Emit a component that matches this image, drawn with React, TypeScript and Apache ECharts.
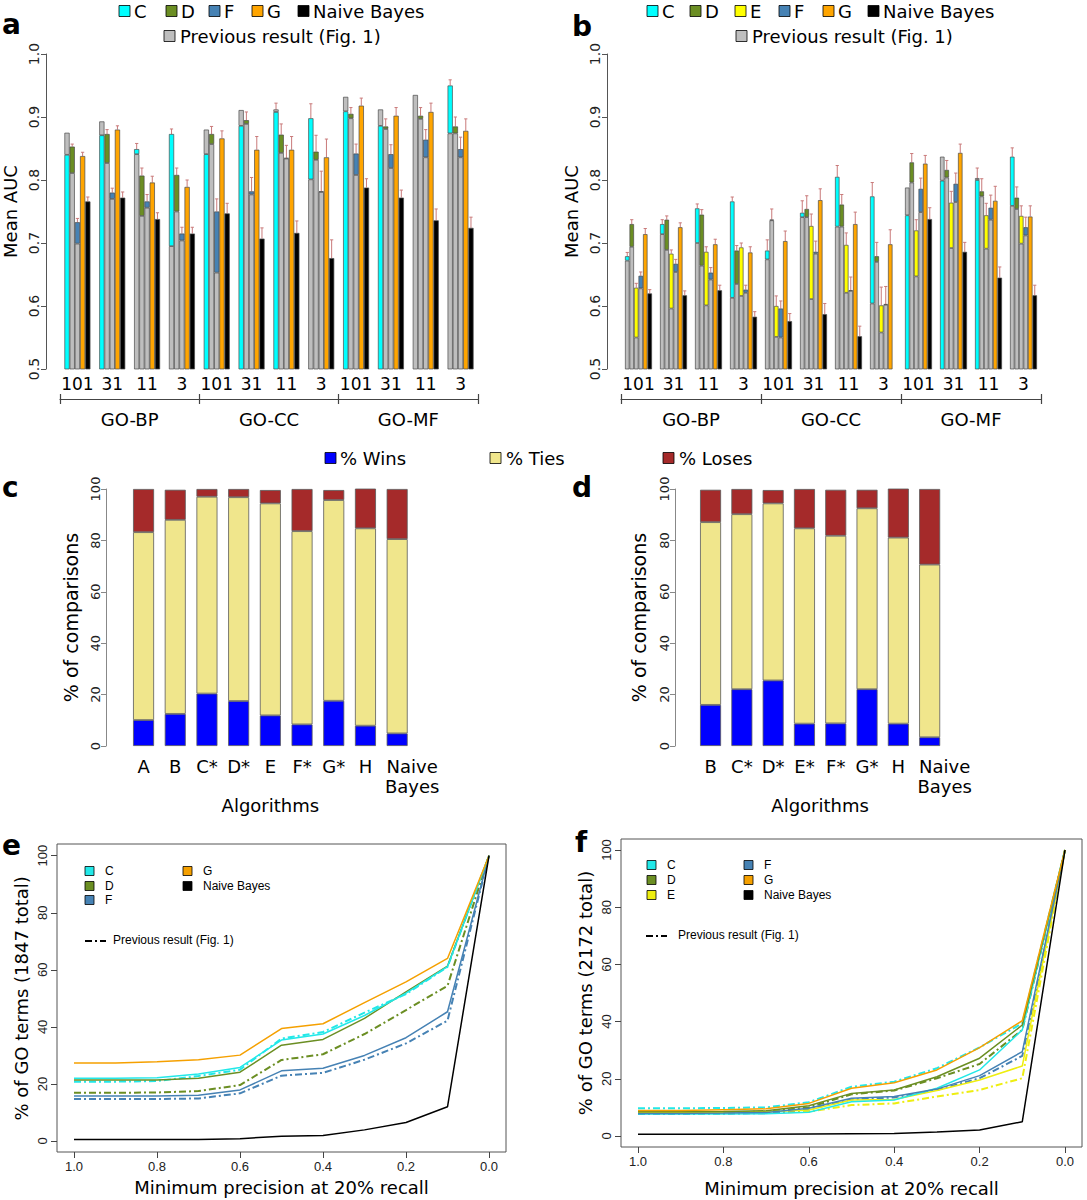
import React, { useEffect, useRef } from 'react';
import * as echarts from 'echarts';

// ---------- shared categories ----------
const windows = ['101', '31', '11', '3', '101', '31', '11', '3', '101', '31', '11', '3'];
const ontologies = ['GO-BP', 'GO-CC', 'GO-MF'];

// ---------- panel a (Mean AUC) ----------
const aNewC = [0.840, 0.871, 0.849, 0.873, 0.841, 0.886, 0.908, 0.898, 0.909, 0.886, null, 0.950];
const aPrevC = [0.875, 0.893, 0.841, 0.695, 0.880, 0.911, 0.912, 0.801, 0.932, 0.912, 0.935, 0.874];
const aErrC = [0.008, 0.008, 0.009, 0.008, 0.008, 0.008, 0.014, 0.023, 0.008, 0.008, 0.010, 0.009];
const aNewD = [0.853, 0.873, 0.807, 0.808, 0.873, 0.895, 0.872, 0.845, 0.905, 0.885, 0.902, 0.885];
const aPrevD = [0.811, 0.827, 0.743, 0.750, 0.857, 0.889, 0.843, 0.832, 0.898, 0.881, 0.897, 0.874];
const aErrD = [0.004, 0.007, 0.012, 0.011, 0.012, 0.013, 0.017, 0.026, 0.010, 0.012, 0.013, 0.015];
const aNewF = [0.733, 0.780, 0.766, 0.715, 0.750, 0.782, 0.835, 0.782, 0.842, 0.841, 0.864, 0.849];
const aPrevF = [0.699, 0.770, 0.756, 0.704, 0.653, 0.777, 0.834, 0.781, 0.808, 0.819, 0.836, 0.836];
const aErrF = [0.006, 0.007, 0.011, 0.010, 0.020, 0.022, 0.020, 0.032, 0.015, 0.015, 0.016, 0.019];
const aNewG = [0.838, 0.880, 0.796, 0.789, 0.866, 0.848, 0.848, 0.836, 0.918, 0.902, 0.908, 0.878];
const aErrG = [0.006, 0.006, 0.010, 0.011, 0.012, 0.021, 0.021, 0.029, 0.012, 0.013, 0.014, 0.019];
const aNB = [0.766, 0.772, 0.738, 0.715, 0.747, 0.707, 0.716, 0.676, 0.788, 0.772, 0.736, 0.724];
const aErrNB = [0.007, 0.009, 0.010, 0.010, 0.016, 0.017, 0.019, 0.029, 0.014, 0.012, 0.018, 0.017];

// ---------- panel b (Mean AUC) ----------
const bNewC = [0.679, 0.730, 0.755, 0.766, 0.688, 0.748, 0.805, 0.774, 0.744, 0.799, 0.800, 0.837];
const bPrevC = [0.672, 0.714, 0.700, 0.613, 0.674, 0.741, 0.726, 0.604, 0.788, 0.837, 0.803, 0.759];
const bErrC = [0.006, 0.007, 0.007, 0.007, 0.017, 0.019, 0.018, 0.022, 0.010, 0.010, 0.019, 0.014];
const bNewD = [0.730, 0.737, 0.745, 0.688, 0.737, 0.754, 0.761, 0.679, 0.828, 0.816, 0.782, 0.772];
const bPrevD = [0.694, 0.689, 0.664, 0.635, 0.736, 0.741, 0.726, 0.670, 0.796, 0.804, 0.774, 0.754];
const bErrD = [0.007, 0.006, 0.008, 0.008, 0.017, 0.021, 0.016, 0.022, 0.014, 0.015, 0.020, 0.017];
const bNewE = [0.629, 0.683, 0.686, 0.693, 0.600, 0.727, 0.697, 0.601, 0.720, 0.764, 0.744, 0.743];
const bPrevE = [0.550, 0.596, 0.601, 0.616, 0.551, 0.611, 0.621, 0.558, 0.647, 0.692, 0.691, 0.699];
const bErrE = [0.007, 0.006, 0.008, 0.007, 0.016, 0.019, 0.019, 0.029, 0.017, 0.018, 0.019, 0.016];
const bNewF = [0.648, 0.667, 0.653, 0.626, 0.596, 0.686, 0.625, 0.603, 0.786, 0.794, 0.756, 0.725];
const bPrevF = [0.628, 0.654, 0.642, 0.621, 0.550, 0.683, 0.624, 0.602, 0.749, 0.765, 0.737, 0.712];
const bErrF = [0.006, 0.007, 0.008, 0.007, 0.012, 0.017, 0.021, 0.028, 0.017, 0.017, 0.020, 0.016];
const bNewG = [0.714, 0.725, 0.698, 0.685, 0.703, 0.768, 0.730, 0.698, 0.826, 0.843, 0.767, 0.742];
const bErrG = [0.009, 0.007, 0.008, 0.009, 0.016, 0.018, 0.019, 0.023, 0.013, 0.014, 0.023, 0.017];
const bNB = [0.620, 0.617, 0.625, 0.583, 0.576, 0.587, 0.552, null, 0.738, 0.686, 0.645, 0.617];
const bErrNB = [0.006, 0.007, 0.008, 0.008, 0.012, 0.017, 0.016, 0, 0.018, 0.015, 0.017, 0.016];

// ---------- panels c, d (% of comparisons) ----------
const cAlgorithms = ['A', 'B', 'C*', 'D*', 'E', 'F*', 'G*', 'H', 'Naive\nBayes'];
const cWins = [10.1, 12.5, 20.4, 17.5, 11.9, 8.4, 17.6, 7.9, 4.9];
const cTies = [73.1, 75.5, 76.6, 79.3, 82.5, 75.2, 78.1, 76.8, 75.6];
const cLoses = [16.8, 11.7, 3.0, 3.2, 5.2, 16.4, 3.9, 15.6, 19.5];
const dAlgorithms = ['B', 'C*', 'D*', 'E*', 'F*', 'G*', 'H', 'Naive\nBayes'];
const dWins = [16.0, 22.1, 25.5, 8.7, 8.8, 22.1, 8.7, 3.4];
const dTies = [71.1, 68.1, 68.9, 76.0, 73.0, 70.4, 72.4, 67.2];
const dLoses = [12.6, 9.8, 5.2, 15.3, 17.9, 7.2, 19.2, 29.4];

// ---------- panels e, f (% of GO terms) ----------
const minPrecision = [1.0, 0.9, 0.8, 0.7, 0.6, 0.5, 0.4, 0.3, 0.2, 0.1, 0.0];
const eG = [27.3, 27.3, 27.8, 28.5, 30.1, 39.4, 41.1, 48.5, 55.8, 64.0, 100];
const eC = [22.0, 22.0, 22.2, 23.5, 25.8, 35.4, 37.5, 44.0, 51.8, 61.1, 100];
const eD = [21.4, 21.4, 21.4, 22.0, 24.1, 33.6, 35.6, 43.0, 52.3, 61.3, 100];
const eF = [15.8, 15.8, 15.8, 16.0, 17.9, 24.6, 25.5, 30.0, 36.2, 45.3, 100];
const eNB = [0.5, 0.5, 0.5, 0.5, 0.8, 1.7, 1.9, 3.9, 6.5, 12.0, 100];
const ePrevC = [20.8, 20.8, 21.0, 22.8, 25.0, 35.9, 38.2, 45.0, 51.5, 61.0, 100];
const ePrevD = [16.9, 16.9, 17.0, 17.5, 19.6, 28.4, 30.4, 37.5, 45.9, 54.4, 100];
const ePrevF = [14.7, 14.7, 14.7, 14.9, 16.7, 22.9, 23.9, 28.5, 34.2, 42.2, 100];

const fG = [8.9, 8.9, 9.2, 9.5, 11.4, 16.7, 18.6, 23.1, 30.9, 40.3, 100];
const fC = [7.7, 7.7, 7.7, 7.8, 8.3, 12.0, 12.6, 16.7, 23.1, 37.1, 100];
const fD = [8.5, 8.5, 8.6, 8.8, 10.6, 14.9, 16.1, 20.7, 27.2, 38.8, 100];
const fE = [8.2, 8.2, 8.3, 8.5, 9.1, 12.6, 12.8, 15.9, 19.6, 24.5, 100];
const fF = [7.9, 7.9, 8.0, 8.2, 9.7, 13.2, 13.8, 16.4, 21.1, 29.5, 100];
const fNB = [0.6, 0.6, 0.6, 0.6, 0.7, 0.8, 0.9, 1.4, 2.1, 5.0, 100];
const fPrevC = [9.7, 9.7, 9.8, 10.0, 11.8, 17.2, 19.0, 23.7, 31.0, 39.4, 100];
const fPrevD = [8.2, 8.2, 8.3, 8.5, 10.0, 14.6, 15.9, 20.2, 25.2, 37.1, 100];
const fPrevE = [7.9, 7.9, 8.0, 8.1, 8.5, 10.8, 11.4, 13.8, 16.1, 20.2, 100];
const fPrevF = [7.7, 7.7, 7.8, 8.0, 9.3, 12.8, 13.5, 16.1, 20.2, 28.0, 100];

// ---------- colours ----------
const COL = {
  C: '#00FFFF', D: '#6B8E23', E: '#FFFF00', F: '#4682B4', G: '#FFA500', NB: '#000000',
  prev: '#BEBEBE', wins: '#0000FF', ties: '#F0E68C', loses: '#A52A2A', err: '#C97A7A',
};
const LINE_COL = { C: '#22E8E8', D: '#6B8E23', E: '#EEEE10', F: '#4682B4', G: '#F5A000', NB: '#000000' };
const DASHDOT = [7, 3, 2, 3];
const SANS = 'DejaVu Sans';
const ARIAL = 'Liberation Sans';

type Algo = { name: string; v: (number | null)[]; prev?: (number | null)[]; err?: number[]; color: string };

function groupedBars(prefix: string, xi: number, yi: number, algos: Algo[], barW: number) {
  const out: any[] = [];
  const n = algos.length;
  const errData: number[][] = [];
  algos.forEach((al, s) => {
    const lower: any[] = [];
    const upper: any[] = [];
    al.v.forEach((nv, i) => {
      const pv = al.prev ? al.prev[i] : null;
      if (nv == null && pv == null) { lower.push('-'); upper.push('-'); return; }
      if (pv == null) { lower.push({ value: nv, itemStyle: { color: al.color } }); upper.push('-'); }
      else if (nv == null) { lower.push({ value: pv, itemStyle: { color: COL.prev } }); upper.push('-'); }
      else if (nv < pv) {
        lower.push({ value: nv, itemStyle: { color: al.color } });
        upper.push({ value: pv - nv, itemStyle: { color: COL.prev } });
      } else {
        lower.push({ value: pv, itemStyle: { color: COL.prev } });
        upper.push({ value: nv - pv, itemStyle: { color: al.color } });
      }
      if (nv != null && al.err && al.err[i] > 0) errData.push([i, s, nv, nv + al.err[i]]);
    });
    const common = {
      type: 'bar', xAxisIndex: xi, yAxisIndex: yi, stack: prefix + al.name, barWidth: barW, barGap: '0%',
      z: 2, clip: true, itemStyle: { borderColor: '#4a4a4a', borderWidth: 0.7 }, emphasis: { disabled: true },
    };
    out.push({ ...common, name: al.name, data: lower });
    out.push({ ...common, name: al.name + ' diff', data: upper });
  });
  out.push({
    type: 'custom', xAxisIndex: xi, yAxisIndex: yi, z: 1, data: errData, encode: { x: 0, y: [2, 3] },
    renderItem: (params: any, api: any) => {
      const i = api.value(0), s = api.value(1), v = api.value(2), e = api.value(3);
      const p0 = api.coord([i, v]);
      const p1 = api.coord([i, e]);
      const x = p0[0] + (s - (n - 1) / 2) * barW;
      const st = { stroke: COL.err, lineWidth: 1 };
      return {
        type: 'group', children: [
          { type: 'line', shape: { x1: x, y1: p0[1], x2: x, y2: p1[1] }, style: st },
          { type: 'line', shape: { x1: x - 1.6, y1: p1[1], x2: x + 1.6, y2: p1[1] }, style: st },
        ],
      };
    },
  });
  return out;
}

function stackedPct(xi: number, yi: number, wins: number[], ties: number[], loses: number[]) {
  const mk = (name: string, data: number[], color: string) => ({
    type: 'bar', name, xAxisIndex: xi, yAxisIndex: yi, stack: 'pct' + xi, data, barWidth: 21,
    itemStyle: { color, borderColor: '#5a5a5a', borderWidth: 0.8 }, emphasis: { disabled: true },
  });
  return [mk('% Wins', wins, COL.wins), mk('% Ties', ties, COL.ties), mk('% Loses', loses, COL.loses)];
}

function lineSeries(xi: number, yi: number, name: string, ys: number[], color: string, dashed: boolean) {
  return {
    type: 'line', name, xAxisIndex: xi, yAxisIndex: yi, symbol: 'none', silent: true,
    data: minPrecision.map((x, i) => [x, ys[i]]),
    lineStyle: { color, width: dashed ? 2 : 1.5, type: dashed ? DASHDOT : 'solid' },
    z: dashed ? 2 : 3,
  };
}

function aucAxes(gridIndex: number, offset: number) {
  const x = [
    {
      gridIndex, type: 'category', data: windows, axisLine: { show: false }, axisTick: { show: false },
      axisLabel: { interval: 0, fontSize: 17, margin: 6, color: '#000', fontFamily: SANS },
    },
    {
      gridIndex, type: 'category', data: ontologies, position: 'bottom', offset: 30,
      axisLine: { show: true, lineStyle: { color: '#444', width: 1.2 } },
      axisTick: { show: true, length: 5, lineStyle: { color: '#444', width: 1.2 } },
      axisLabel: { interval: 0, fontSize: 18, margin: 11, color: '#000', fontFamily: SANS },
    },
    {
      gridIndex, type: 'category', data: ontologies, position: 'bottom', offset: 30,
      axisLine: { show: false }, axisLabel: { show: false },
      axisTick: { show: true, inside: true, length: 5, lineStyle: { color: '#444', width: 1.2 } },
    },
  ];
  const y = {
    gridIndex, type: 'value', min: 0.5, max: 1.0, interval: 0.1, offset,
    axisLine: { show: true, lineStyle: { color: '#555' } },
    axisTick: { show: true, length: 5, lineStyle: { color: '#555' } },
    splitLine: { show: false },
    axisLabel: { rotate: 90, fontSize: 14, margin: 5, color: '#222', fontFamily: SANS, formatter: (v: number) => v.toFixed(1) },
    name: 'Mean AUC', nameLocation: 'middle', nameGap: 27, nameTextStyle: { fontSize: 18, color: '#000', fontFamily: SANS },
  };
  return { x, y };
}

function legendSquare(x: number, y: number, color: string, label: string, size: number, font: number, family: string, gap: number) {
  return [
    { type: 'rect', shape: { x, y: y - size / 2, width: size, height: size }, style: { fill: color, stroke: '#000', lineWidth: 0.8 } },
    { type: 'text', x: x + size + gap, y, style: { text: label, fill: '#000', font: `${font}px "${family}"`, verticalAlign: 'middle', textAlign: 'left' } },
  ];
}

function letter(x: number, y: number, t: string) {
  return { type: 'text', x, y, style: { text: t, fill: '#000', font: `bold 28px "${SANS}"`, verticalAlign: 'middle' } };
}

export default function App() {
  const ref = useRef<HTMLDivElement>(null);
  useEffect(() => {
    document.body.style.margin = '0';
    if (!ref.current) return;
    const chart = echarts.init(ref.current, null, { renderer: 'svg' });

    const aAx = aucAxes(0, 14);
    const bAx = aucAxes(1, 14);

    const pctY = (gridIndex: number, offset: number, nameGap: number) => ({
      gridIndex, type: 'value', min: 0, max: 100, interval: 20, offset,
      axisLine: { show: true, lineStyle: { color: '#888' } },
      axisTick: { show: true, length: 5, lineStyle: { color: '#888' } },
      splitLine: { show: false },
      axisLabel: { rotate: 90, fontSize: 13, margin: 4, color: '#222', fontFamily: SANS },
      name: '% of comparisons', nameLocation: 'middle', nameGap, nameTextStyle: { fontSize: 19, color: '#000', fontFamily: SANS },
    });
    const pctX = (gridIndex: number, data: string[]) => ({
      gridIndex, type: 'category',
      data: data.map((d) => (d.indexOf('\n') >= 0 ? { value: d, textStyle: { padding: [0, 0, 0, 30] } } : d)),
      axisLine: { show: false }, axisTick: { show: false },
      axisLabel: { interval: 0, fontSize: 18, lineHeight: 20, margin: 10, color: '#000', fontFamily: SANS },
      name: 'Algorithms', nameLocation: 'middle', nameGap: 38, nameTextStyle: { fontSize: 18, color: '#000', fontFamily: SANS },
    });
    const goX = (gridIndex: number, nameGap: number) => ({
      gridIndex, type: 'value', min: 0, max: 1, interval: 0.2, inverse: true, offset: 11,
      axisLine: { show: false, onZero: false }, splitLine: { show: false },
      axisTick: { show: true, length: 6, lineStyle: { color: '#444' } },
      axisLabel: { fontSize: 13, margin: 8, color: '#222', fontFamily: ARIAL, formatter: (v: number) => v.toFixed(1) },
      name: 'Minimum precision at 20% recall', nameLocation: 'middle', nameGap,
      nameTextStyle: { fontSize: 18, color: '#000', fontFamily: SANS },
    });
    const goY = (gridIndex: number, name: string, offset: number) => ({
      gridIndex, type: 'value', min: 0, max: 100, interval: 20, offset,
      axisLine: { show: false, onZero: false }, splitLine: { show: false },
      axisTick: { show: true, length: 6, lineStyle: { color: '#444' } },
      axisLabel: { rotate: 90, fontSize: 13, margin: 8, color: '#222', fontFamily: ARIAL },
      name, nameLocation: 'middle', nameGap: 27, nameTextStyle: { fontSize: 18, color: '#000', fontFamily: SANS },
    });
    const boxX = (gridIndex: number) => ({ gridIndex, type: 'value', show: false, min: 0, max: 1, axisLine: { onZero: false } });
    const boxY = (gridIndex: number) => ({ gridIndex, type: 'value', show: false, min: 0, max: 1, axisLine: { onZero: false } });

    const series: any[] = [
      ...groupedBars('a', 0, 0, [
        { name: 'C', v: aNewC, prev: aPrevC, err: aErrC, color: COL.C },
        { name: 'D', v: aNewD, prev: aPrevD, err: aErrD, color: COL.D },
        { name: 'F', v: aNewF, prev: aPrevF, err: aErrF, color: COL.F },
        { name: 'G', v: aNewG, err: aErrG, color: COL.G },
        { name: 'Naive Bayes', v: aNB, err: aErrNB, color: COL.NB },
      ], 5.2),
      ...groupedBars('b', 3, 1, [
        { name: 'C', v: bNewC, prev: bPrevC, err: bErrC, color: COL.C },
        { name: 'D', v: bNewD, prev: bPrevD, err: bErrD, color: COL.D },
        { name: 'E', v: bNewE, prev: bPrevE, err: bErrE, color: COL.E },
        { name: 'F', v: bNewF, prev: bPrevF, err: bErrF, color: COL.F },
        { name: 'G', v: bNewG, err: bErrG, color: COL.G },
        { name: 'Naive Bayes', v: bNB, err: bErrNB, color: COL.NB },
      ], 4.5),
      ...stackedPct(6, 2, cWins, cTies, cLoses),
      ...stackedPct(7, 3, dWins, dTies, dLoses),
      lineSeries(8, 4, 'C prev', ePrevC, LINE_COL.C, true),
      lineSeries(8, 4, 'D prev', ePrevD, LINE_COL.D, true),
      lineSeries(8, 4, 'F prev', ePrevF, LINE_COL.F, true),
      lineSeries(8, 4, 'F', eF, LINE_COL.F, false),
      lineSeries(8, 4, 'D', eD, LINE_COL.D, false),
      lineSeries(8, 4, 'C', eC, LINE_COL.C, false),
      lineSeries(8, 4, 'G', eG, LINE_COL.G, false),
      lineSeries(8, 4, 'Naive Bayes', eNB, LINE_COL.NB, false),
      lineSeries(10, 6, 'E prev', fPrevE, LINE_COL.E, true),
      lineSeries(10, 6, 'F prev', fPrevF, LINE_COL.F, true),
      lineSeries(10, 6, 'D prev', fPrevD, LINE_COL.D, true),
      lineSeries(10, 6, 'C prev', fPrevC, LINE_COL.C, true),
      lineSeries(10, 6, 'E', fE, LINE_COL.E, false),
      lineSeries(10, 6, 'C', fC, LINE_COL.C, false),
      lineSeries(10, 6, 'F', fF, LINE_COL.F, false),
      lineSeries(10, 6, 'D', fD, LINE_COL.D, false),
      lineSeries(10, 6, 'G', fG, LINE_COL.G, false),
      lineSeries(10, 6, 'Naive Bayes', fNB, LINE_COL.NB, false),
    ];

    const graphics: any[] = [
      letter(2, 24, 'a'), letter(572, 26, 'b'), letter(2, 487, 'c'), letter(572, 487, 'd'),
      letter(2, 845, 'e'), letter(575, 842, 'f'),
      // legend a
      ...legendSquare(119, 11, COL.C, 'C', 11, 18, SANS, 4),
      ...legendSquare(166, 11, COL.D, 'D', 11, 18, SANS, 4),
      ...legendSquare(209, 11, COL.F, 'F', 11, 18, SANS, 4),
      ...legendSquare(252, 11, COL.G, 'G', 11, 18, SANS, 4),
      ...legendSquare(298, 11, COL.NB, 'Naive Bayes', 11, 18, SANS, 4),
      ...legendSquare(164, 36, COL.prev, 'Previous result (Fig. 1)', 11, 18, SANS, 5),
      // legend b
      ...legendSquare(647, 11, COL.C, 'C', 11, 18, SANS, 4),
      ...legendSquare(690, 11, COL.D, 'D', 11, 18, SANS, 4),
      ...legendSquare(735, 11, COL.E, 'E', 11, 18, SANS, 4),
      ...legendSquare(779, 11, COL.F, 'F', 11, 18, SANS, 4),
      ...legendSquare(823, 11, COL.G, 'G', 11, 18, SANS, 4),
      ...legendSquare(868, 11, COL.NB, 'Naive Bayes', 11, 18, SANS, 4),
      ...legendSquare(736, 36, COL.prev, 'Previous result (Fig. 1)', 11, 18, SANS, 5),
      // legend c/d
      ...legendSquare(325, 458, COL.wins, '% Wins', 11, 18, SANS, 4),
      ...legendSquare(490, 458, COL.ties, '% Ties', 11, 18, SANS, 5),
      ...legendSquare(663, 458, COL.loses, '% Loses', 11, 18, SANS, 5),
      // legend e
      ...legendSquare(85, 871, LINE_COL.C, 'C', 9, 12, ARIAL, 11),
      ...legendSquare(85, 886, LINE_COL.D, 'D', 9, 12, ARIAL, 11),
      ...legendSquare(85, 900, LINE_COL.F, 'F', 9, 12, ARIAL, 11),
      ...legendSquare(183, 871, LINE_COL.G, 'G', 9, 12, ARIAL, 11),
      ...legendSquare(183, 886, LINE_COL.NB, 'Naive Bayes', 9, 12, ARIAL, 11),
      { type: 'line', shape: { x1: 85, y1: 941, x2: 106, y2: 941 }, style: { stroke: '#000', lineWidth: 2, lineDash: DASHDOT } },
      { type: 'text', x: 113, y: 940, style: { text: 'Previous result (Fig. 1)', fill: '#000', font: `12px "${ARIAL}"`, verticalAlign: 'middle' } },
      // legend f
      ...legendSquare(647, 865, LINE_COL.C, 'C', 9, 12, ARIAL, 11),
      ...legendSquare(647, 880, LINE_COL.D, 'D', 9, 12, ARIAL, 11),
      ...legendSquare(647, 895, LINE_COL.E, 'E', 9, 12, ARIAL, 11),
      ...legendSquare(744, 865, LINE_COL.F, 'F', 9, 12, ARIAL, 11),
      ...legendSquare(744, 880, LINE_COL.G, 'G', 9, 12, ARIAL, 11),
      ...legendSquare(744, 895, LINE_COL.NB, 'Naive Bayes', 9, 12, ARIAL, 11),
      { type: 'line', shape: { x1: 646, y1: 936, x2: 667, y2: 936 }, style: { stroke: '#000', lineWidth: 2, lineDash: DASHDOT } },
      { type: 'text', x: 678, y: 935, style: { text: 'Previous result (Fig. 1)', fill: '#000', font: `12px "${ARIAL}"`, verticalAlign: 'middle' } },
    ];

    chart.setOption({
      animation: false,
      backgroundColor: '#fff',
      textStyle: { fontFamily: SANS },
      grid: [
        { left: 58, top: 54, width: 420, height: 315 },
        { left: 621, top: 54, width: 420, height: 315 },
        { left: 127.7, top: 489, width: 285.3, height: 257 },
        { left: 694.9, top: 489, width: 250.4, height: 257 },
        { left: 74, top: 855.7, width: 415, height: 285.3 },
        { left: 57, top: 844, width: 449, height: 308, show: true, borderColor: '#555', borderWidth: 1, backgroundColor: 'transparent' },
        { left: 638, top: 850, width: 427, height: 286 },
        { left: 621, top: 839, width: 461, height: 308, show: true, borderColor: '#555', borderWidth: 1, backgroundColor: 'transparent' },
      ],
      xAxis: [
        ...aAx.x, ...bAx.x,
        pctX(2, cAlgorithms), pctX(3, dAlgorithms),
        goX(4, 26), boxX(5), goX(6, 32), boxX(7),
      ],
      yAxis: [
        aAx.y, bAx.y,
        pctY(2, 21.7, 26), pctY(3, 19.9, 27),
        goY(4, '% of GO terms (1847 total)', 17), boxY(5),
        goY(6, '% of GO terms (2172 total)', 17), boxY(7),
      ],
      series,
      graphic: graphics,
    });
    return () => chart.dispose();
  }, []);
  return <div ref={ref} style={{ width: 1087, height: 1200 }} />;
}
